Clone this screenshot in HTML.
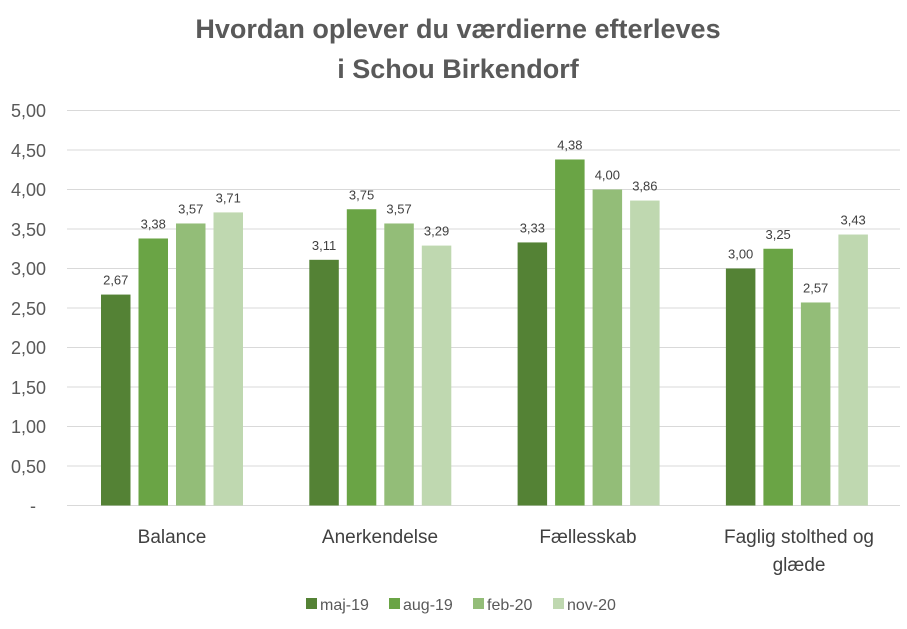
<!DOCTYPE html>
<html><head><meta charset="utf-8"><style>body{margin:0;background:#fff}svg{display:block}text{font-family:"Liberation Sans",sans-serif}</style></head><body>
<svg width="907" height="629" xmlns="http://www.w3.org/2000/svg">
<text x="458" y="38" text-anchor="middle" font-size="27" font-weight="bold" fill="#595959">Hvordan oplever du værdierne efterleves</text>
<text x="458" y="78" text-anchor="middle" font-size="27" font-weight="bold" fill="#595959">i Schou Birkendorf</text>
<g stroke="#d9d9d9" stroke-width="1">
<line x1="67" x2="900" y1="110.5" y2="110.5"/><line x1="67" x2="900" y1="150" y2="150"/><line x1="67" x2="900" y1="189.5" y2="189.5"/><line x1="67" x2="900" y1="229" y2="229"/><line x1="67" x2="900" y1="268.5" y2="268.5"/><line x1="67" x2="900" y1="308" y2="308"/><line x1="67" x2="900" y1="347.5" y2="347.5"/><line x1="67" x2="900" y1="387" y2="387"/><line x1="67" x2="900" y1="426.5" y2="426.5"/><line x1="67" x2="900" y1="466" y2="466"/><line x1="67" x2="900" y1="505.5" y2="505.5"/>
</g>
<g font-size="18" fill="#595959" text-anchor="end">
<text x="46" y="117">5,00</text><text x="46" y="157">4,50</text><text x="46" y="196">4,00</text><text x="46" y="236">3,50</text><text x="46" y="275">3,00</text><text x="46" y="315">2,50</text><text x="46" y="354">2,00</text><text x="46" y="394">1,50</text><text x="46" y="433">1,00</text><text x="46" y="473">0,50</text><text x="36" y="512">-</text>
</g>
<g>
<rect x="101" y="294.57" width="29.5" height="210.93" fill="#548235"/>
<rect x="138.5" y="238.48" width="29.5" height="267.02" fill="#6aa445"/>
<rect x="176" y="223.47" width="29.5" height="282.03" fill="#93bd78"/>
<rect x="213.5" y="212.41" width="29.5" height="293.09" fill="#bfd8b0"/>
<rect x="309.3" y="259.81" width="29.5" height="245.69" fill="#548235"/>
<rect x="346.8" y="209.25" width="29.5" height="296.25" fill="#6aa445"/>
<rect x="384.3" y="223.47" width="29.5" height="282.03" fill="#93bd78"/>
<rect x="421.8" y="245.59" width="29.5" height="259.91" fill="#bfd8b0"/>
<rect x="517.6" y="242.43" width="29.5" height="263.07" fill="#548235"/>
<rect x="555.1" y="159.48" width="29.5" height="346.02" fill="#6aa445"/>
<rect x="592.6" y="189.5" width="29.5" height="316" fill="#93bd78"/>
<rect x="630.1" y="200.56" width="29.5" height="304.94" fill="#bfd8b0"/>
<rect x="725.9" y="268.5" width="29.5" height="237" fill="#548235"/>
<rect x="763.4" y="248.75" width="29.5" height="256.75" fill="#6aa445"/>
<rect x="800.9" y="302.47" width="29.5" height="203.03" fill="#93bd78"/>
<rect x="838.4" y="234.53" width="29.5" height="270.97" fill="#bfd8b0"/>
</g>
<g font-size="13" fill="#404040" text-anchor="middle">
<text x="115.75" y="284.6">2,67</text><text x="153.25" y="228.5">3,38</text><text x="190.75" y="213.5">3,57</text><text x="228.25" y="202.4">3,71</text>
<text x="324.05" y="249.8">3,11</text><text x="361.55" y="199.3">3,75</text><text x="399.05" y="213.5">3,57</text><text x="436.55" y="235.6">3,29</text>
<text x="532.35" y="232.4">3,33</text><text x="569.85" y="149.5">4,38</text><text x="607.35" y="179.5">4,00</text><text x="644.85" y="190.6">3,86</text>
<text x="740.65" y="258.5">3,00</text><text x="778.15" y="238.8">3,25</text><text x="815.65" y="292.5">2,57</text><text x="853.15" y="224.5">3,43</text>
</g>
<g font-size="19" fill="#404040" text-anchor="middle">
<text x="172" y="543">Balance</text><text x="380" y="543">Anerkendelse</text><text x="588" y="543">Fællesskab</text><text x="799" y="543">Faglig stolthed og</text><text x="799" y="571">glæde</text>
</g>
<g font-size="16" fill="#595959">
<rect x="306" y="598" width="11" height="11" fill="#548235"/><text x="320" y="610">maj-19</text>
<rect x="389" y="598" width="11" height="11" fill="#6aa445"/><text x="403" y="610">aug-19</text>
<rect x="473" y="598" width="11" height="11" fill="#93bd78"/><text x="487" y="610">feb-20</text>
<rect x="553" y="598" width="11" height="11" fill="#bfd8b0"/><text x="567" y="610">nov-20</text>
</g>
</svg>
</body></html>
